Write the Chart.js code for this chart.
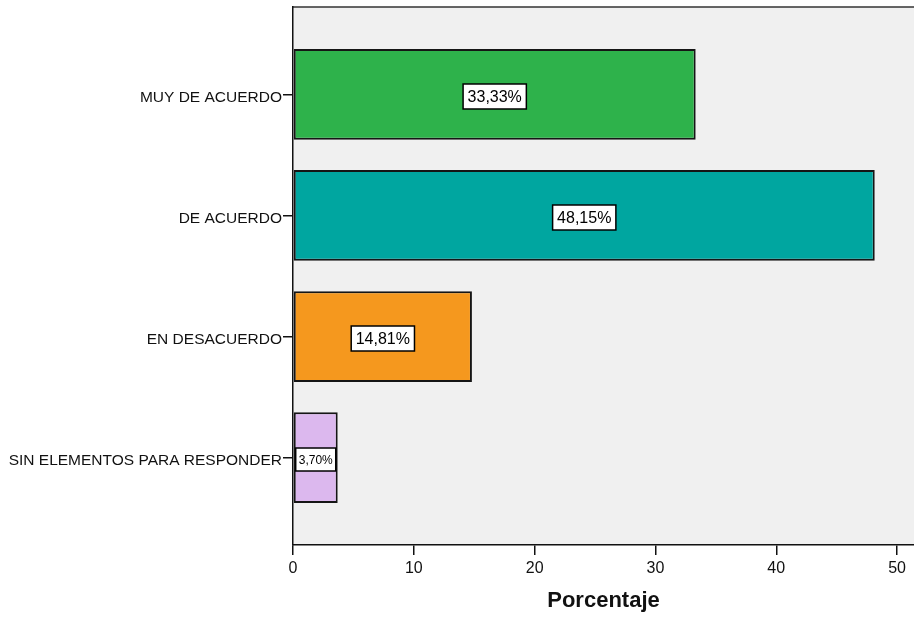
<!DOCTYPE html>
<html>
<head>
<meta charset="utf-8">
<script src="https://cdn.jsdelivr.net/npm/chart.js@4"></script>
<style>
    html, body { margin: 0; padding: 0; background: #fff; }
    #wrap { width: 914px; height: 618px; }
</style>
</head>
<body>
<div id="wrap"><canvas id="myChart" width="914" height="618"></canvas></div>
<script>
(function(){
    'use strict';

    const categories = ['MUY DE ACUERDO', 'DE ACUERDO', 'EN DESACUERDO', 'SIN ELEMENTOS PARA RESPONDER'];
    const percentages = [33.33, 48.15, 14.81, 3.70];
    const barColors = ['#2eb24b', '#00a6a0', '#f5981e', '#dcb8ee'];
    const xTicks = [0, 10, 20, 30, 40, 50];

    const ctx = document.querySelector('#myChart');
    const fontFamily = '"Liberation Sans", Arial, sans-serif';

    //plot background + top frame line
    const frame = {
        id: 'frame',
        beforeDraw(chart){
            const a = chart.chartArea;
            const c = chart.ctx;
            c.save();
            c.fillStyle = '#f0f0f0';
            c.fillRect(a.left, a.top, a.right - a.left, a.bottom - a.top);
            c.strokeStyle = '#333';
            c.lineWidth = 1.5;
            c.beginPath();
            c.moveTo(a.left, a.top);
            c.lineTo(a.right, a.top);
            c.stroke();
            c.restore();
        }
    };

    //boxed value labels in the middle of each bar
    const valueBoxes = {
        id: 'valueBoxes',
        afterDatasetsDraw(chart){
            const c = chart.ctx;
            const bars = chart.getDatasetMeta(0).data;
            c.save();
            bars.forEach(function(bar, i){
                const text = percentages[i].toFixed(2).replace('.', ',') + '%';
                const small = percentages[i] < 5;
                c.font = (small ? 12 : 16) + 'px ' + fontFamily;
                const w = c.measureText(text).width + (small ? 6 : 9);
                const h = small ? 23 : 25;
                const cx = (bar.x + bar.base) / 2;
                const cy = bar.y + 2;
                c.fillStyle = '#fff';
                c.fillRect(cx - w / 2, cy - h / 2, w, h);
                c.strokeStyle = '#000';
                c.lineWidth = 1.5;
                c.strokeRect(cx - w / 2, cy - h / 2, w, h);
                c.fillStyle = '#000';
                c.textAlign = 'center';
                c.textBaseline = 'middle';
                c.fillText(text, cx, cy + 1);
            });
            c.restore();
        }
    };

    new Chart(ctx, {
        type: 'bar',
        data: {
            datasets: [
                {
                    data: percentages.map(function(v, i){ return {x: v, y: i}; }),
                    backgroundColor: barColors,
                    borderColor: '#151515',
                    borderWidth: 2,
                    borderSkipped: false,
                    categoryPercentage: 1,
                    barPercentage: 0.75
                }
            ]
        },
        plugins: [frame, valueBoxes],
        options: {
            indexAxis: 'y',
            responsive: false,
            animation: false,
            devicePixelRatio: 1,
            layout: { padding: { top: 7, right: 0, left: 0, bottom: 0 } },
            plugins: {
                legend: { display: false },
                tooltip: { enabled: false }
            },
            scales: {
                x: {
                    type: 'linear',
                    min: 0,
                    max: 51.4,
                    afterBuildTicks: function(scale){
                        scale.ticks = xTicks.map(function(v){ return {value: v}; });
                    },
                    afterFit: function(scale){ scale.height = 73; },
                    border: { color: '#111', width: 1.5 },
                    grid: { drawOnChartArea: false, drawTicks: true, tickLength: 10, color: '#111', lineWidth: 1.5 },
                    ticks: {
                        color: '#111',
                        padding: 4,
                        font: { family: fontFamily, size: 16 }
                    },
                    title: {
                        display: true,
                        text: 'Porcentaje',
                        color: '#111',
                        padding: { top: 13 },
                        font: { family: fontFamily, size: 22, weight: 'bold' }
                    }
                },
                y: {
                    type: 'linear',
                    reverse: true,
                    offset: false,
                    min: -0.723,
                    max: 3.723,
                    afterBuildTicks: function(scale){
                        scale.ticks = categories.map(function(c, i){ return {value: i}; });
                    },
                    afterFit: function(scale){
                        scale.width = 293;
                        scale.paddingTop = 0;
                        scale.paddingBottom = 0;
                    },
                    border: { color: '#111', width: 1.5 },
                    grid: { offset: false, drawOnChartArea: false, drawTicks: true, tickLength: 10, color: '#111', lineWidth: 1.5 },
                    ticks: {
                        color: '#111',
                        padding: 1,
                        labelOffset: 3,
                        font: { family: fontFamily, size: 15.5 },
                        callback: function(v){ return categories[v]; }
                    }
                }
            }
        }
    });
})();
</script>
</body>
</html>
